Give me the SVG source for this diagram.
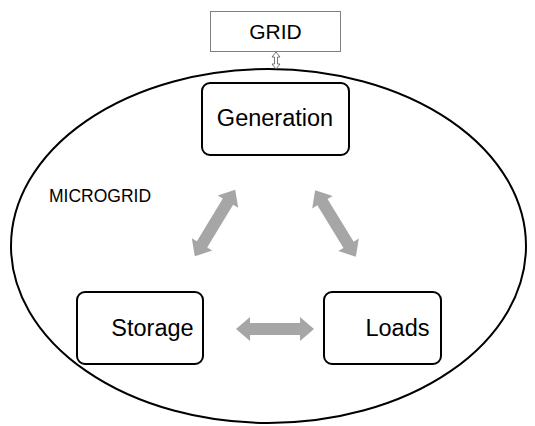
<svg xmlns="http://www.w3.org/2000/svg" width="535" height="426" viewBox="0 0 535 426">
<style>
text{font-family:"Liberation Sans",Arial,sans-serif;fill:#000;text-anchor:middle}
.box{fill:#fff;stroke:#000;stroke-width:2}
.lbl{font-size:23.5px}
.arr{fill:#a6a6a6;stroke:none}
</style>
<defs>
<polygon id="dbl" points="-39,0 -25,-12 -25,-6 25,-6 25,-12 39,0 25,12 25,6 -25,6 -25,12"/>
</defs>
<rect width="535" height="426" fill="#fff"/>
<g id="microgrid">
<ellipse cx="268.5" cy="246" rx="257.5" ry="177" fill="none" stroke="#000" stroke-width="2"/>
<text x="100" y="202" font-size="17.5">MICROGRID</text>
</g>
<g id="grid">
<rect x="210.5" y="11.5" width="130" height="40" fill="#fff" stroke="#7f7f7f" stroke-width="1"/>
<text x="275.5" y="39" font-size="21">GRID</text>
</g>
<g id="generation">
<rect class="box" x="202" y="83" width="147" height="72" rx="8"/>
<text class="lbl" x="275" y="126">Generation</text>
</g>
<g id="storage">
<rect class="box" x="77" y="292" width="126" height="72" rx="8"/>
<text class="lbl" x="152.5" y="336">Storage</text>
</g>
<g id="loads">
<rect class="box" x="324" y="292" width="117" height="72" rx="8"/>
<text class="lbl" x="397.5" y="336">Loads</text>
</g>
<g id="connectors">
<polygon points="276,52 280,57 277.5,57 277.5,64 280,64 276,69 272,64 274.5,64 274.5,57 272,57" fill="#fff" stroke="#555" stroke-width="0.8"/>
<use href="#dbl" class="arr" transform="translate(275,329)"/>
<use href="#dbl" class="arr" transform="translate(215,223) rotate(-58.8)"/>
<use href="#dbl" class="arr" transform="translate(335.5,223.5) rotate(58.5)"/>
</g>
</svg>
